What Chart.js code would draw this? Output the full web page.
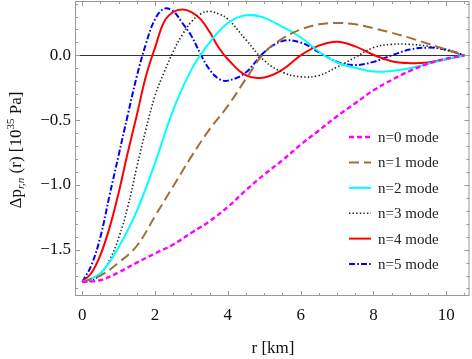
<!DOCTYPE html>
<html><head><meta charset="utf-8">
<script src="https://cdn.jsdelivr.net/npm/chart.js@4/dist/chart.umd.min.js"></script>
<style>html,body{margin:0;padding:0;background:#fff;}#wrap{width:472px;height:359px;}</style>
</head><body><div id="wrap"><canvas id="c" width="472" height="359"></canvas></div>
<script>
const rCoarse = [0,0.5,1,1.5,2,2.5,3,3.5,4,4.5,5,5.5,6,6.5,7,7.5,8,8.5,9,9.5,10,10.5];
const rFine = [0,0.25,0.5,0.75,1,1.25,1.5,1.75,2,2.25,2.5,2.75,3,3.25,3.5,3.75,4,4.5,5,5.5,6,6.5,7,7.5,8,8.5,9,9.5,10,10.5];
const mode0 = [-1.75,-1.735,-1.675,-1.60,-1.53,-1.46,-1.37,-1.28,-1.17,-1.04,-0.92,-0.81,-0.69,-0.58,-0.47,-0.37,-0.27,-0.19,-0.12,-0.065,-0.025,0];
const mode1 = [-1.75,-1.70,-1.60,-1.47,-1.24,-1.01,-0.78,-0.57,-0.39,-0.18,0.02,0.13,0.20,0.24,0.25,0.24,0.21,0.175,0.135,0.09,0.045,0];
const mode2 = [-1.75,-1.68,-1.48,-1.20,-0.83,-0.42,-0.11,0.10,0.25,0.31,0.29,0.22,0.14,0.03,-0.055,-0.095,-0.125,-0.12,-0.10,-0.065,-0.03,0];
const mode3 = [-1.75,-1.74,-1.69,-1.58,-1.41,-1.17,-0.86,-0.57,-0.31,-0.13,0.03,0.16,0.26,0.32,0.34,0.32,0.28,0.12,-0.04,-0.13,-0.165,-0.155,-0.09,-0.015,0.06,0.085,0.085,0.07,0.04,0];
const mode4 = [-1.75,-1.68,-1.54,-1.33,-1.06,-0.75,-0.46,-0.16,0.06,0.26,0.335,0.355,0.335,0.28,0.18,0.06,-0.03,-0.155,-0.17,-0.11,0.0,0.075,0.105,0.07,0.005,-0.045,-0.06,-0.055,-0.03,0];
const mode5 = [-1.75,-1.62,-1.40,-1.08,-0.77,-0.46,-0.16,0.09,0.28,0.36,0.34,0.25,0.15,0.01,-0.11,-0.18,-0.195,-0.13,0.025,0.11,0.10,0.025,-0.05,-0.075,-0.05,0.0,0.045,0.06,0.045,0];
const seriesLabels = ["n=0 mode","n=1 mode","n=2 mode","n=3 mode","n=4 mode","n=5 mode"];
const xTicks = [0,2,4,6,8,10];
const yTicks = [-1.5,-1.0,-0.5,0.0];

const pts = (xs, ys) => xs.map((x,i)=>({x:x, y:ys[i]}));
const styles = [
  {c:'#ff00ff', w:2.4, d:[5,3]},
  {c:'#a0703c', w:2, d:[10,5]},
  {c:'#00ffff', w:2, d:[]},
  {c:'#222222', w:1.6, d:[1.4,2.2]},
  {c:'#ff0000', w:2, d:[]},
  {c:'#0000ff', w:2, d:[6,2.2,1.6,2.2]}
];
const seriesData = [pts(rCoarse,mode0),pts(rCoarse,mode1),pts(rCoarse,mode2),pts(rFine,mode3),pts(rFine,mode4),pts(rFine,mode5)];
const datasets = seriesData.map((d,i)=>({
  label: seriesLabels[i], data: d, borderColor: styles[i].c, borderWidth: styles[i].w,
  borderDash: styles[i].d, borderCapStyle:'butt', pointRadius:0, tension:0.4, fill:false
}));

const serif = "'Liberation Serif', 'Times New Roman', serif";
const decor = {
  id:'decor',
  beforeDatasetsDraw(chart){
    const {ctx, chartArea:a, scales:{y}} = chart;
    ctx.save();
    const py = Math.round(y.getPixelForValue(0))+0.5;
    ctx.strokeStyle='#333'; ctx.lineWidth=1;
    ctx.beginPath(); ctx.moveTo(a.left,py); ctx.lineTo(a.right,py); ctx.stroke();
    ctx.restore();
  },
  afterDatasetsDraw(chart){
    const {ctx, chartArea:a, scales:{x,y}} = chart;
    ctx.save();
    ctx.strokeStyle='#999'; ctx.lineWidth=1;
    ctx.strokeRect(a.left+0.5, a.top+0.5, a.right-a.left-1, a.bottom-a.top-1);
    ctx.beginPath();
    for(let v=0; v<=10.6; v+=0.5){
      const major = Math.abs(v/2-Math.round(v/2))<1e-6;
      const L = major?5:3;
      const px = Math.round(x.getPixelForValue(v))+0.5;
      ctx.moveTo(px,a.bottom); ctx.lineTo(px,a.bottom-L);
      ctx.moveTo(px,a.top); ctx.lineTo(px,a.top+L);
    }
    for(let k=-18;k<=4;k++){
      const v=k/10;
      const major = (k%5===0);
      const L = major?5:3;
      const p = Math.round(y.getPixelForValue(v))+0.5;
      ctx.moveTo(a.left,p); ctx.lineTo(a.left+L,p);
      ctx.moveTo(a.right,p); ctx.lineTo(a.right-L,p);
    }
    ctx.stroke();
    // legend
    ctx.textBaseline='middle'; ctx.textAlign='left';
    ctx.font = "15px "+serif; ctx.fillStyle='#222';
    chart.data.datasets.forEach((ds,i)=>{
      const ly = 137 + i*25.4;
      ctx.strokeStyle=ds.borderColor; ctx.lineWidth=ds.borderWidth;
      ctx.setLineDash(ds.borderDash); ctx.lineCap='butt';
      ctx.beginPath(); ctx.moveTo(349,ly); ctx.lineTo(371,ly); ctx.stroke();
      ctx.setLineDash([]);
      ctx.fillText(ds.label, 378, ly+1);
    });
    // x title
    ctx.fillStyle='#111'; ctx.textAlign='center';
    ctx.font="17px "+serif;
    ctx.fillText("r [km]", 273, 349);
    // y title with sub/superscript
    ctx.translate(17,150); ctx.rotate(-Math.PI/2);
    const parts=[
      {t:"Δp", f:"17px "+serif, dy:0},
      {t:"r,n", f:"italic 11px "+serif, dy:4},
      {t:" (r) [10", f:"17px "+serif, dy:0},
      {t:"35", f:"11px "+serif, dy:-6},
      {t:" Pa]", f:"17px "+serif, dy:0}
    ];
    let tw=0; parts.forEach(p=>{ctx.font=p.f; p.w=ctx.measureText(p.t).width; tw+=p.w;});
    let cx=-tw/2; ctx.textAlign='left';
    parts.forEach(p=>{ctx.font=p.f; ctx.fillText(p.t,cx,p.dy); cx+=p.w;});
    ctx.restore();
  }
};

new Chart(document.getElementById('c'), {
  type:'line',
  data:{datasets},
  options:{
    responsive:false, animation:false, devicePixelRatio:1,
    layout:{padding:{top:1,right:2.5,left:0,bottom:0}},
    plugins:{legend:{display:false}, tooltip:{enabled:false}},
    scales:{
      x:{type:'linear', min:-0.2, max:10.64,
        grid:{display:false, drawTicks:false}, border:{display:false},
        afterBuildTicks:(s)=>{s.ticks=xTicks.map(v=>({value:v}));},
        afterFit:(s)=>{s.height=63; s.paddingLeft=0; s.paddingRight=0; s.paddingTop=0; s.paddingBottom=0;},
        ticks:{color:'#111', padding:9, font:{family:serif,size:17}, maxRotation:0, autoSkip:false, callback:(v)=>String(v)}},
      y:{type:'linear', min:-1.858, max:0.42,
        grid:{display:false, drawTicks:false}, border:{display:false},
        afterBuildTicks:(s)=>{s.ticks=yTicks.map(v=>({value:v}));},
        afterFit:(s)=>{s.width=75; s.paddingLeft=0; s.paddingRight=0; s.paddingTop=0; s.paddingBottom=0;},
        ticks:{color:'#111', padding:4, font:{family:serif,size:17}, autoSkip:false, callback:(v)=>(v<0?"\u2212":"")+Math.abs(v).toFixed(1)}}
    }
  },
  plugins:[decor]
});
</script></body></html>
